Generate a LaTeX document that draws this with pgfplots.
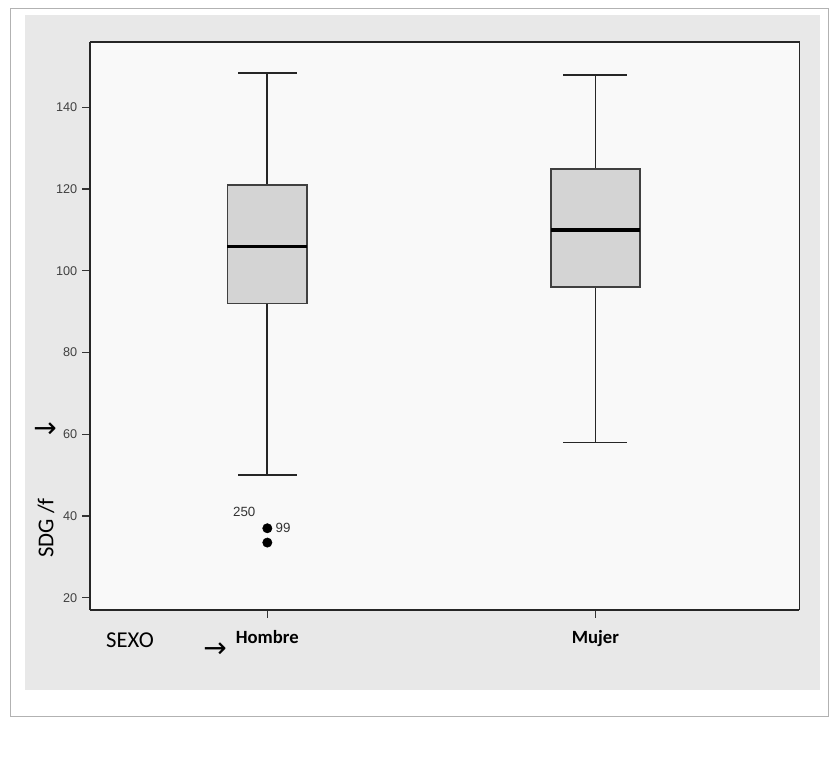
\documentclass[border=0pt]{standalone}
\usepackage{pgfplots}
\pgfplotsset{compat=1.18}
\usepgfplotslibrary{statistics}
\usepackage{fontspec}
\setmainfont{Liberation Sans}
\newfontfamily\carlito{Carlito}
\newfontfamily\dejavu{DejaVu Sans}
\definecolor{bggray}{HTML}{E8E8E8}
\definecolor{plotbg}{HTML}{F9F9F9}
\definecolor{boxfill}{HTML}{D4D4D4}
\begin{document}
\begin{tikzpicture}
\path[use as bounding box] (0,0) rectangle (625.5pt,567pt);
\begin{scope}[x=0.75pt,y=0.75pt]
\fill[white] (0,0) rectangle (834,756);
\draw[gray!60, line width=0.6pt] (10,40) rectangle (828,748);
\fill[bggray] (25,66) rectangle (820,741);
\end{scope}
\begin{axis}[
  at={(67.5pt,109.5pt)}, anchor=south west,
  scale only axis, width=532pt, height=426pt,
  axis background/.style={fill=plotbg},
  axis line style={black!85, line width=1.1pt},
  xmin=0, xmax=4, ymin=17, ymax=156,
  xtick={1,2.85}, xticklabels={Hombre,Mujer},
  xticklabel style={font=\carlito\bfseries\fontsize{14}{16}\selectfont, yshift=-6pt},
  ytick={20,40,60,80,100,120,140},
  yticklabel style={font=\fontsize{9.5}{11}\selectfont, text=black!75},
  /pgf/number format/assume math mode=true,
  tick align=outside, major tick length=6pt,
  tick style={black!80, line width=1pt},
  axis x line*=bottom, axis y line*=left,
  clip=false,
  boxplot/draw direction=y,
  boxplot/every whisker/.style={black!85, line width=1.3pt},
  boxplot/every box/.style={draw=black!75, fill=boxfill, line width=1.3pt},
  boxplot/every median/.style={black, line width=2.4pt},
]
\draw[black!85, line width=1.1pt] (rel axis cs:0,1) -- (rel axis cs:1,1) -- (rel axis cs:1,0);
\addplot[boxplot prepared={draw position=1, lower whisker=50, lower quartile=92, median=106, upper quartile=121, upper whisker=148.5, box extend=0.45, whisker extend=0.33},
  draw=black!85, line width=1.3pt, solid, mark=none]
  coordinates {};
\addplot[boxplot prepared={draw position=2.85, lower whisker=58, lower quartile=96, median=110, upper quartile=125, upper whisker=148, box extend=0.5, whisker extend=0.36},
  draw=black!85, line width=1.3pt, solid, mark=none]
  coordinates {};
\addplot[only marks, mark=*, mark size=3.5pt, black] coordinates {(1,37) (1,33.5)};
\node[font=\fontsize{10}{12}\selectfont, text=black!80] at (axis cs:0.87,41) {250};
\node[font=\fontsize{10}{12}\selectfont, text=black!80, anchor=west] at (axis cs:1.02,37) {99};
\end{axis}
\begin{scope}[x=0.75pt,y=0.75pt]
\node[rotate=90, font=\carlito\fontsize{17}{19}\selectfont] at (46,228) {SDG /f};
\node[font=\dejavu\fontsize{21}{23}\selectfont] at (45,326) {→};
\node[font=\carlito\fontsize{17}{19}\selectfont] at (130,116) {SEXO};
\node[font=\dejavu\fontsize{21}{23}\selectfont] at (215,106) {→};
\end{scope}
\end{tikzpicture}
\end{document}
